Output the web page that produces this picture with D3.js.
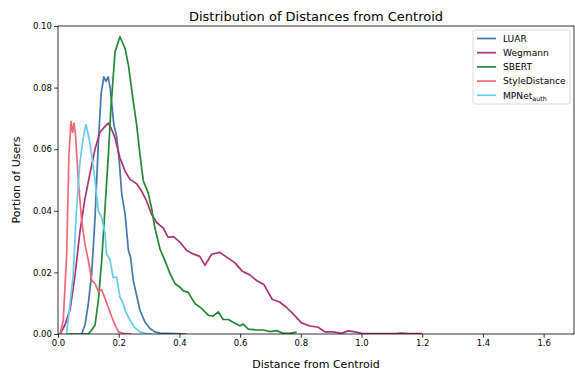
<!DOCTYPE html>
<html>
<head>
<meta charset="utf-8">
<script src="https://cdn.jsdelivr.net/npm/d3@7/dist/d3.min.js"></script>
<style>
  html, body { margin: 0; padding: 0; background: #fff; }
  svg { display: block; font-family: "DejaVu Sans", sans-serif; }
</style>
</head>
<body>
<svg id="chart" width="575" height="372"></svg>
<script>
// ---- Data ----
const seriesNames = ["LUAR", "Wegmann", "SBERT", "StyleDistance", "MPNet_auth"];
const seriesColors = ["#4477AA", "#AA3377", "#228833", "#EE6677", "#66CCEE"];

const luarX = [0.078,0.089,0.1,0.111,0.122,0.133,0.142,0.151,0.158,0.165,0.172,0.18,0.184,0.193,0.202,0.21,0.221,0.232,0.239,0.248,0.259,0.27,0.286,0.303,0.319,0.336,0.36,0.39,0.424];
const luarY = [0,0.003,0.0099,0.0196,0.0378,0.062,0.078,0.0835,0.082,0.0835,0.0798,0.072,0.068,0.0642,0.056,0.0454,0.039,0.0271,0.025,0.0174,0.0126,0.0077,0.004,0.0018,0.0007,0.0003,0.0002,0.0001,0];

const wegX = [0.007,0.023,0.04,0.056,0.072,0.089,0.105,0.122,0.138,0.155,0.166,0.177,0.188,0.204,0.221,0.237,0.259,0.275,0.292,0.308,0.325,0.347,0.363,0.38,0.402,0.424,0.445,0.467,0.484,0.506,0.533,0.558,0.583,0.607,0.632,0.654,0.678,0.706,0.73,0.753,0.775,0.802,0.83,0.857,0.879,0.906,0.934,0.956,0.978,1.0,1.04,1.08,1.115,1.13,1.16,1.2];
const wegY = [0,0.003,0.008,0.019,0.033,0.044,0.052,0.06,0.0655,0.0674,0.0685,0.0664,0.0636,0.0572,0.0529,0.0502,0.0488,0.0465,0.0432,0.0389,0.0362,0.0344,0.0314,0.0316,0.0298,0.0271,0.026,0.0252,0.0223,0.0259,0.0265,0.0248,0.0231,0.0204,0.0192,0.0174,0.0161,0.0112,0.0104,0.0086,0.0065,0.0036,0.0026,0.0022,0.0007,0.0007,0.0002,0.001,0.0007,0.0002,0.0001,0.0001,0.0001,0.0003,0.0001,0.0001];

const sbertX = [0.03,0.1,0.111,0.122,0.133,0.144,0.155,0.166,0.175,0.188,0.204,0.221,0.232,0.248,0.259,0.27,0.281,0.297,0.308,0.319,0.336,0.352,0.369,0.385,0.402,0.413,0.429,0.451,0.473,0.495,0.511,0.528,0.544,0.561,0.583,0.599,0.61,0.627,0.654,0.676,0.698,0.72,0.742,0.764,0.786];
const sbertY = [0,0,0.0013,0.0029,0.011,0.0239,0.041,0.0583,0.0744,0.0916,0.0965,0.0927,0.0873,0.0755,0.068,0.0583,0.0497,0.0459,0.041,0.0346,0.0276,0.0239,0.0196,0.0164,0.0152,0.014,0.0135,0.0099,0.0083,0.0061,0.0058,0.0072,0.0047,0.0047,0.0035,0.0027,0.0032,0.0016,0.0013,0.0013,0.0008,0.0011,0.0002,0.0002,0.0006];

const styleX = [0.007,0.0175,0.0286,0.036,0.043,0.048,0.053,0.058,0.067,0.078,0.089,0.1,0.111,0.122,0.133,0.144,0.155,0.166,0.177,0.188,0.199,0.215,0.243];
const styleY = [0,0.0045,0.026,0.0583,0.069,0.0655,0.0685,0.0642,0.0497,0.0368,0.029,0.0239,0.0175,0.0164,0.0137,0.0144,0.0115,0.0085,0.0056,0.0029,0.0007,0.0002,0];

const mpnetX = [0.028,0.04,0.05,0.06,0.072,0.083,0.092,0.1,0.111,0.122,0.133,0.144,0.155,0.16,0.171,0.182,0.193,0.204,0.213,0.221,0.237,0.253,0.27,0.29,0.31];
const mpnetY = [0,0.01,0.019,0.039,0.0555,0.0636,0.068,0.0647,0.0583,0.0497,0.04,0.0378,0.0325,0.026,0.0242,0.0183,0.0185,0.012,0.0104,0.0077,0.0045,0.0021,0.0007,0.0002,0];

const xTicks = [0, 0.2, 0.4, 0.6, 0.8, 1.0, 1.2, 1.4, 1.6];
const yTicks = [0, 0.02, 0.04, 0.06, 0.08, 0.10];

const titleText = "Distribution of Distances from Centroid";
const xLabelText = "Distance from Centroid";
const yLabelText = "Portion of Users";

// ---- Layout ----
const W = 575, H = 372;
const margin = { left: 58, right: 1, top: 26, bottom: 38 };
const svg = d3.select("#chart");

const x = d3.scaleLinear().domain([0, 1.7]).range([margin.left, W - margin.right]);
const y = d3.scaleLinear().domain([0, 0.1]).range([H - margin.bottom, margin.top]);

const seriesData = [
  { name: seriesNames[0], color: seriesColors[0], xs: luarX, ys: luarY },
  { name: seriesNames[1], color: seriesColors[1], xs: wegX, ys: wegY },
  { name: seriesNames[2], color: seriesColors[2], xs: sbertX, ys: sbertY },
  { name: seriesNames[3], color: seriesColors[3], xs: styleX, ys: styleY },
  { name: seriesNames[4], color: seriesColors[4], xs: mpnetX, ys: mpnetY }
];

svg.append("clipPath").attr("id", "clip").append("rect")
  .attr("x", margin.left).attr("y", margin.top)
  .attr("width", W - margin.left - margin.right)
  .attr("height", H - margin.top - margin.bottom);

const line = d3.line().x(d => x(d[0])).y(d => y(d[1]));

const plot = svg.append("g").attr("clip-path", "url(#clip)");
seriesData.forEach(s => {
  const pts = s.xs.map((v, i) => [v, s.ys[i]]);
  plot.append("path")
    .datum(pts)
    .attr("fill", "none")
    .attr("stroke", s.color)
    .attr("stroke-width", 1.7)
    .attr("stroke-linejoin", "round")
    .attr("d", line);
});

const xAxis = d3.axisBottom(x).tickValues(xTicks).tickFormat(d3.format(".1f")).tickSize(3.8).tickPadding(2.3);
const yAxis = d3.axisLeft(y).tickValues(yTicks).tickFormat(d3.format(".2f")).tickSize(3.8).tickPadding(2.3);

const gx = svg.append("g").attr("transform", `translate(0,${H - margin.bottom})`).call(xAxis);
const gy = svg.append("g").attr("transform", `translate(${margin.left},0)`).call(yAxis);
[gx, gy].forEach(g => {
  g.select(".domain").remove();
  g.selectAll(".tick line").attr("stroke", "#000").attr("stroke-width", 0.8);
  g.selectAll(".tick text").attr("fill", "#000").style("font-size", "8.5px").style("font-family", "DejaVu Sans");
});

svg.append("rect")
  .attr("x", margin.left).attr("y", margin.top)
  .attr("width", W - margin.left - margin.right)
  .attr("height", H - margin.top - margin.bottom)
  .attr("fill", "none").attr("stroke", "#000").attr("stroke-width", 0.8);

svg.append("text").attr("x", (margin.left + W - margin.right) / 2).attr("y", 21).attr("text-anchor", "middle")
  .style("font-size", "13px").attr("fill", "#000").text(titleText);
svg.append("text").attr("x", (margin.left + W - margin.right) / 2).attr("y", 368).attr("text-anchor", "middle")
  .style("font-size", "11px").attr("fill", "#000").text(xLabelText);
svg.append("text").attr("transform", `translate(20,${(margin.top + H - margin.bottom) / 2}) rotate(-90)`)
  .attr("text-anchor", "middle").style("font-size", "11px").attr("fill", "#000").text(yLabelText);

const lg = svg.append("g");
lg.append("rect").attr("x", 473).attr("y", 30).attr("width", 97).attr("height", 74)
  .attr("rx", 2).attr("fill", "#fff").attr("fill-opacity", 0.8)
  .attr("stroke", "#d0d0d0").attr("stroke-width", 0.8);
seriesData.forEach((s, i) => {
  const yy = 38.5 + i * 14.2;
  lg.append("line").attr("x1", 477).attr("x2", 496).attr("y1", yy).attr("y2", yy)
    .attr("stroke", s.color).attr("stroke-width", 1.7);
  const t = lg.append("text").attr("x", 503).attr("y", yy + 3.2).style("font-size", "9.1px").attr("fill", "#000");
  if (s.name.indexOf("_") >= 0) {
    const parts = s.name.split("_");
    t.append("tspan").text(parts[0]);
    t.append("tspan").attr("dy", 2).style("font-size", "6.4px").text(parts[1]);
  } else {
    t.text(s.name);
  }
});
</script>
</body>
</html>
